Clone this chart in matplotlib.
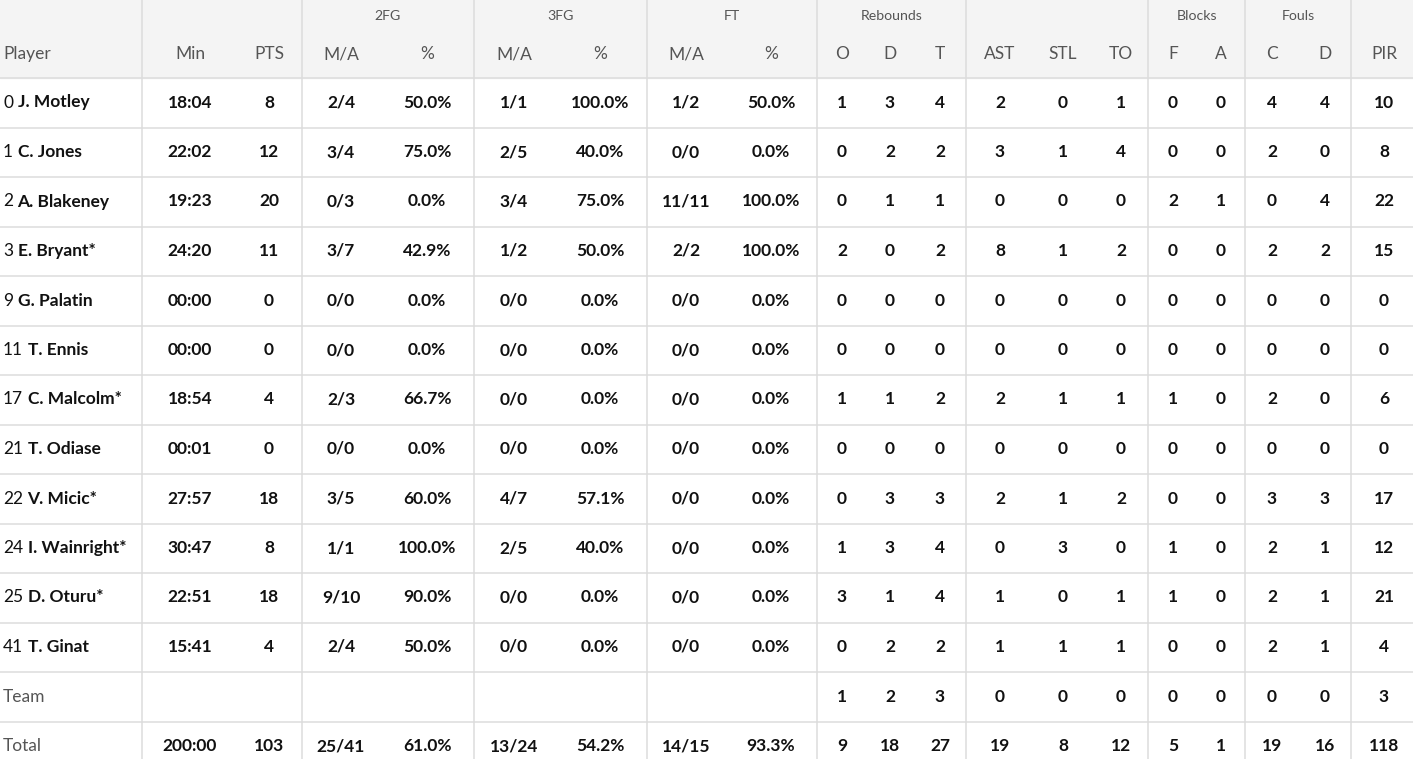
import matplotlib
matplotlib.use("Agg")
import matplotlib.pyplot as plt

# ---- data ----
numbers = ["0", "1", "2", "3", "9", "11", "17", "21", "22", "24", "25", "41"]
names = ["J. Motley", "C. Jones", "A. Blakeney", "E. Bryant*", "G. Palatin", "T. Ennis",
         "C. Malcolm*", "T. Odiase", "V. Micic*", "I. Wainright*", "D. Oturu*", "T. Ginat"]
minutes = ["18:04", "22:02", "19:23", "24:20", "00:00", "00:00", "18:54", "00:01", "27:57", "30:47", "22:51", "15:41"]
pts = [8, 12, 20, 11, 0, 0, 4, 0, 18, 8, 18, 4]
fg2_ma = ["2/4", "3/4", "0/3", "3/7", "0/0", "0/0", "2/3", "0/0", "3/5", "1/1", "9/10", "2/4"]
fg2_pct = ["50.0%", "75.0%", "0.0%", "42.9%", "0.0%", "0.0%", "66.7%", "0.0%", "60.0%", "100.0%", "90.0%", "50.0%"]
fg3_ma = ["1/1", "2/5", "3/4", "1/2", "0/0", "0/0", "0/0", "0/0", "4/7", "2/5", "0/0", "0/0"]
fg3_pct = ["100.0%", "40.0%", "75.0%", "50.0%", "0.0%", "0.0%", "0.0%", "0.0%", "57.1%", "40.0%", "0.0%", "0.0%"]
ft_ma = ["1/2", "0/0", "11/11", "2/2", "0/0", "0/0", "0/0", "0/0", "0/0", "0/0", "0/0", "0/0"]
ft_pct = ["50.0%", "0.0%", "100.0%", "100.0%", "0.0%", "0.0%", "0.0%", "0.0%", "0.0%", "0.0%", "0.0%", "0.0%"]
reb_o = [1, 0, 0, 2, 0, 0, 1, 0, 0, 1, 3, 0]
reb_d = [3, 2, 1, 0, 0, 0, 1, 0, 3, 3, 1, 2]
reb_t = [4, 2, 1, 2, 0, 0, 2, 0, 3, 4, 4, 2]
ast = [2, 3, 0, 8, 0, 0, 2, 0, 2, 0, 1, 1]
stl = [0, 1, 0, 1, 0, 0, 1, 0, 1, 3, 0, 1]
tov = [1, 4, 0, 2, 0, 0, 1, 0, 2, 0, 1, 1]
blk_f = [0, 0, 2, 0, 0, 0, 1, 0, 0, 1, 1, 0]
blk_a = [0, 0, 1, 0, 0, 0, 0, 0, 0, 0, 0, 0]
foul_c = [4, 2, 0, 2, 0, 0, 2, 0, 3, 2, 2, 2]
foul_d = [4, 0, 4, 2, 0, 0, 0, 0, 3, 1, 1, 1]
pir = [10, 8, 22, 15, 0, 0, 6, 0, 17, 12, 21, 4]

team_row = ["", "", "", "", "", "", "", "", "1", "2", "3", "0", "0", "0", "0", "0", "0", "0", "3"]
total_row = ["200:00", "103", "25/41", "61.0%", "13/24", "54.2%", "14/15", "93.3%",
             "9", "18", "27", "19", "8", "12", "5", "1", "19", "16", "118"]

col_labels = ["Min", "PTS", "M/A", "%", "M/A", "%", "M/A", "%", "O", "D", "T",
              "AST", "STL", "TO", "F", "A", "C", "D", "PIR"]
group_labels = ["2FG", "3FG", "FT", "Rebounds", "Blocks", "Fouls"]

# ---- layout ----
W, H = 1413, 759
col_x = [190, 269, 341, 427, 514, 600, 686, 771, 842, 890, 940, 1000, 1063, 1121, 1173, 1221, 1272, 1325, 1384]
group_x = [388, 561, 732, 892, 1197, 1298]
vlines = [142, 302, 474, 647, 817, 966, 1148, 1245, 1351]
header_h = 78
row_h = 49.5
base0 = 107.5  # baseline of first data row

FONT = "Lato"
FS = 12.5
line_c = "#dcdcdc"
hdr_c = "#555555"
txt_c = "#111111"

fig = plt.figure(figsize=(W / 100, H / 100), dpi=100)
ax = fig.add_axes([0, 0, 1, 1])
ax.set_xlim(0, W)
ax.set_ylim(H, 0)
ax.axis("off")

ax.add_patch(plt.Rectangle((0, 0), W, header_h, color="#f4f4f4", zorder=0))
for x in vlines:
    ax.plot([x, x], [0, H], color=line_c, lw=1.1, zorder=1)
for i in range(14):
    y = header_h + i * row_h
    ax.plot([0, W], [y, y], color=line_c, lw=1.1, zorder=1)

# header
for gx, g in zip(group_x, group_labels):
    ax.text(gx, 20.3, g, ha="center", va="baseline", fontsize=10.2, color=hdr_c, family=FONT)
ax.text(3, 59, "Player", ha="left", va="baseline", fontsize=FS, color=hdr_c, family=FONT)
for cx, lab in zip(col_x, col_labels):
    ax.text(cx, 59, lab, ha="center", va="baseline", fontsize=FS, color=hdr_c, family=FONT)

fig.canvas.draw()
renderer = fig.canvas.get_renderer()
inv = ax.transData.inverted()

cols = [minutes, pts, fg2_ma, fg2_pct, fg3_ma, fg3_pct, ft_ma, ft_pct, reb_o, reb_d, reb_t,
        ast, stl, tov, blk_f, blk_a, foul_c, foul_d, pir]
for r in range(len(names)):
    y = base0 + r * row_h
    t = ax.text(3, y, numbers[r], ha="left", va="baseline", fontsize=FS, color=txt_c, family=FONT)
    bb = t.get_window_extent(renderer)
    xr = inv.transform((bb.x1, bb.y0))[0]
    ax.text(xr + 4.5, y, names[r], ha="left", va="baseline", fontsize=FS, color=txt_c,
            family=FONT, fontweight="bold")
    for cx, col in zip(col_x, cols):
        ax.text(cx, y, str(col[r]), ha="center", va="baseline", fontsize=FS, color=txt_c,
                family=FONT, fontweight="bold")

y_team = base0 + 12 * row_h
y_tot = base0 + 13 * row_h
ax.text(3, y_team, "Team", ha="left", va="baseline", fontsize=FS, color=hdr_c, family=FONT)
ax.text(3, y_tot, "Total", ha="left", va="baseline", fontsize=FS, color=hdr_c, family=FONT)
for cx, v in zip(col_x, team_row):
    if v:
        ax.text(cx, y_team, v, ha="center", va="baseline", fontsize=FS, color=txt_c,
                family=FONT, fontweight="bold")
for cx, v in zip(col_x, total_row):
    ax.text(cx, y_tot, v, ha="center", va="baseline", fontsize=FS, color=txt_c,
            family=FONT, fontweight="bold")

fig.savefig("out.png", dpi=100)
